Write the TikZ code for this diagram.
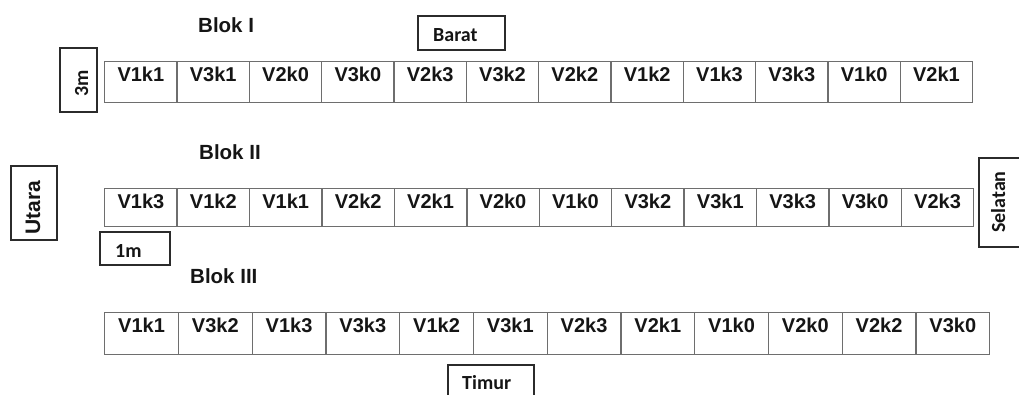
\documentclass[tikz,border=0pt]{standalone}
\usepackage{fontspec}
\setmainfont{Liberation Sans}
\newfontfamily\markfont{Carlito}
\definecolor{cellline}{HTML}{6E6E6E}
\definecolor{boxline}{HTML}{2B2B2B}
\definecolor{ink}{HTML}{151515}
\begin{document}
\begin{tikzpicture}[x=1pt,y=-1pt,
  plotcell/.style={draw=cellline, line width=1.4pt, inner xsep=0pt, inner ysep=0pt,
    anchor=north west, text=ink, font=\fontsize{20}{24}\selectfont\bfseries,
    text height=19.5pt},
  bloklabel/.style={anchor=base west, inner sep=0pt, text=ink,
    font=\fontsize{20.5}{24}\selectfont\bfseries},
  dirbox/.style={draw=boxline, line width=1.6pt, anchor=north west, inner sep=0pt},
  dirtext/.style={anchor=base west, inner sep=0pt, text=ink,
    font=\markfont\fontsize{20}{24}\selectfont\bfseries},
  dirtextsans/.style={anchor=base west, inner sep=0pt, text=ink,
    font=\fontsize{21}{24}\selectfont\bfseries}]
\useasboundingbox (0,0) rectangle (1019,394);
\clip (0,0) rectangle (1019,394);

% Blok I
\node[bloklabel] (blok1) at (198,32) {Blok I};
\foreach [count=\i from 0] \t in {V1k1,V3k1,V2k0,V3k0,V2k3,V3k2,V2k2,V1k2,V1k3,V3k3,V1k0,V2k1}
  \node[plotcell, minimum width=72.33pt, text depth=21.5pt] (a\i) at (104+\i*72.33,61) {\t};

% Blok II
\node[bloklabel] (blok2) at (199,159) {Blok II};
\foreach [count=\i from 0] \t in {V1k3,V1k2,V1k1,V2k2,V2k1,V2k0,V1k0,V3k2,V3k1,V3k3,V3k0,V2k3}
  \node[plotcell, minimum width=72.42pt, text depth=18.5pt] (b\i) at (104+\i*72.42,188) {\t};

% Blok III
\node[bloklabel] (blok3) at (190,283) {Blok III};
\foreach [count=\i from 0] \t in {V1k1,V3k2,V1k3,V3k3,V1k2,V3k1,V2k3,V2k1,V1k0,V2k0,V2k2,V3k0}
  \node[plotcell, minimum width=73.75pt, text depth=22.5pt] (c\i) at (104+\i*73.75,312) {\t};

% Orientation and scale markers
\node[dirbox, minimum width=87pt, minimum height=34pt] (baratbox) at (417,15) {};
\node[dirtext] (barat) at (433,41) {Barat};

\node[dirbox, minimum width=86pt, minimum height=40pt] (timurbox) at (447,364) {};
\node[dirtext] (timur) at (462,389) {Timur};

\node[dirbox, minimum width=46pt, minimum height=74pt] (utarabox) at (10,165) {};
\node[dirtextsans, rotate=90] (utara) at (40,235) {Utara};

\node[dirbox, minimum width=50pt, minimum height=89pt] (selatanbox) at (978,157) {};
\node[dirtext, rotate=90] (selatan) at (1005,233) {Selatan};

\node[dirbox, minimum width=37pt, minimum height=64pt] (tigabox) at (59,47) {};
\node[dirtext, rotate=90] (tiga) at (88,97) {3m};

\node[dirbox, minimum width=70pt, minimum height=33pt] (satubox) at (99,231) {};
\node[dirtext] (satu) at (115,257) {1m};
\end{tikzpicture}
\end{document}
